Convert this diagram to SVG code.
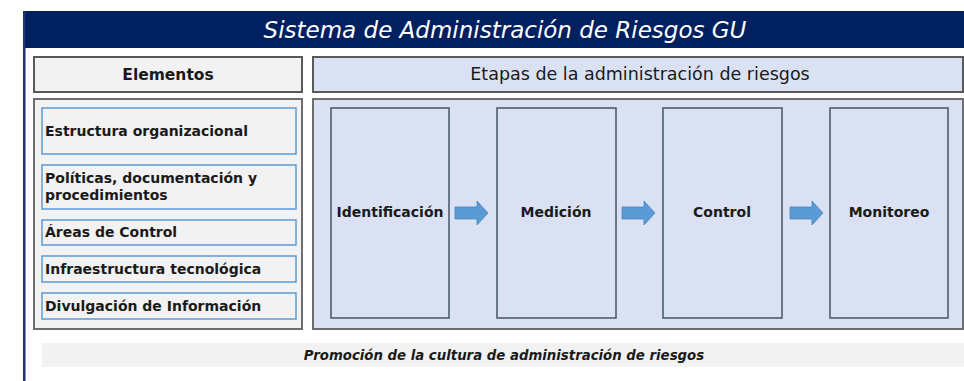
<svg xmlns="http://www.w3.org/2000/svg" width="964" height="381" viewBox="0 0 964 381">
<defs>
<style>
.hdr{fill:#f2f2f2;stroke:#595959;stroke-width:2}
.panel{stroke:#6e6e6e;stroke-width:2}
.item{fill:#f2f2f2;stroke:#5b9bd5;stroke-width:1.5}
.stage{fill:#dae1f2;stroke:#44546a;stroke-width:1.5}
.arrow{fill:#5b9bd5;stroke:#4a86bd;stroke-width:0.8}
.t{font-family:"DejaVu Sans",Verdana,sans-serif;fill:#1a1a1a}
.b{font-weight:bold}
</style>
</defs>
<rect x="0" y="0" width="964" height="381" fill="#ffffff"/>
<g id="frame">
<rect x="23" y="11" width="945" height="37" fill="#002060"/>
<rect x="23" y="11" width="2.5" height="370" fill="#1f3370"/>
<text x="505" y="38" text-anchor="middle" font-family="DejaVu Sans,Verdana,sans-serif" font-style="italic" font-size="23" fill="#ffffff">Sistema de Administración de Riesgos GU</text>
</g>
<g id="elementos-header">
<rect class="hdr" x="34" y="57" width="268" height="35"/>
<text class="t b" x="168" y="80" text-anchor="middle" font-size="15.5">Elementos</text>
</g>
<g id="etapas-header">
<rect x="313" y="57" width="650" height="35" fill="#dae1f2" stroke="#595959" stroke-width="2"/>
<text class="t" x="640" y="80" text-anchor="middle" font-size="17.5" fill="#1a1a1a" font-family="DejaVu Sans,Verdana,sans-serif">Etapas de la administración de riesgos</text>
</g>
<g id="elementos-panel">
<rect class="panel" x="34" y="99" width="268" height="230" fill="#f2f2f2"/>
</g>
<g id="item-estructura">
<rect class="item" x="42" y="108" width="254" height="46"/>
<text class="t b" x="45" y="136" font-size="14">Estructura organizacional</text>
</g>
<g id="item-politicas">
<rect class="item" x="42" y="165" width="254" height="44"/>
<text class="t b" x="45" y="183" font-size="14">Políticas, documentación y</text>
<text class="t b" x="45" y="200" font-size="14">procedimientos</text>
</g>
<g id="item-areas">
<rect class="item" x="42" y="220" width="254" height="25"/>
<text class="t b" x="45" y="237" font-size="14">Áreas de Control</text>
</g>
<g id="item-infra">
<rect class="item" x="42" y="256" width="254" height="26"/>
<text class="t b" x="45" y="274" font-size="14">Infraestructura tecnológica</text>
</g>
<g id="item-divulgacion">
<rect class="item" x="42" y="293" width="254" height="26"/>
<text class="t b" x="45" y="311" font-size="14">Divulgación de Información</text>
</g>
<g id="etapas-panel">
<rect class="panel" x="313" y="99" width="650" height="230" fill="#dae1f2"/>
</g>
<g id="stage-identificacion">
<rect class="stage" x="331" y="108" width="118" height="210"/>
<text class="t b" x="390" y="217" text-anchor="middle" font-size="14">Identificación</text>
</g>
<g id="stage-medicion">
<rect class="stage" x="497" y="108" width="119" height="210"/>
<text class="t b" x="556" y="217" text-anchor="middle" font-size="14">Medición</text>
</g>
<g id="stage-control">
<rect class="stage" x="663" y="108" width="119" height="210"/>
<text class="t b" x="722" y="217" text-anchor="middle" font-size="14">Control</text>
</g>
<g id="stage-monitoreo">
<rect class="stage" x="830" y="108" width="118" height="210"/>
<text class="t b" x="889" y="217" text-anchor="middle" font-size="14">Monitoreo</text>
</g>
<g id="connectors">
<path class="arrow" d="M455,207 H477 V201 L488,213 L477,225 V219 H455 Z"/>
<path class="arrow" d="M622,207 H644 V201 L655,213 L644,225 V219 H622 Z"/>
<path class="arrow" d="M790,207 H812 V201 L823,213 L812,225 V219 H790 Z"/>
</g>
<g id="promocion">
<rect x="42" y="343" width="922" height="24" fill="#f2f2f2"/>
<text class="t b" x="504" y="360" text-anchor="middle" font-size="13.3" font-style="italic">Promoción de la cultura de administración de riesgos</text>
</g>
</svg>
